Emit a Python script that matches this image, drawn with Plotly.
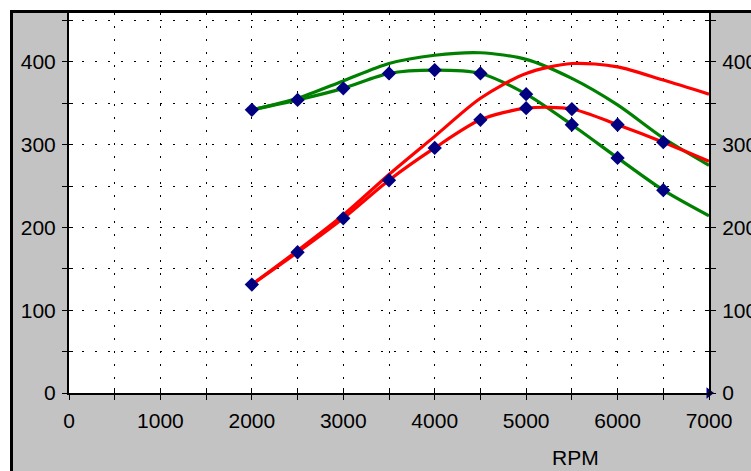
import plotly.graph_objects as go

# ---- data ----
rpm = [2000, 2500, 3000, 3500, 4000, 4500, 5000, 5500, 6000, 6500, 7000]
green_marked = [342, 354, 368, 386, 390, 386, 361, 324, 284, 245, 214]
green_smooth = [342, 356, 377, 398, 408, 411, 403, 380, 348, 308, 275]
red_marked = [131, 170, 211, 257, 296, 330, 344, 343, 324, 303, 280]
red_smooth = [131, 172, 215, 264, 310, 356, 386, 398, 394, 378, 361]
x_ticks = list(range(0, 7001, 500))
x_ticktext = [str(v) if v % 1000 == 0 else "" for v in x_ticks]
y_ticks = list(range(0, 451, 50))
y_ticktext = [str(v) if v % 100 == 0 else "" for v in y_ticks]

W, H = 751, 471
L, R, T, B = 69, 709, 13, 393
YMAX = 459

FONT = "Liberation Sans, Arial, sans-serif"
GREEN = "#008000"
RED = "#ff0000"
NAVY = "#000080"
GRAY = "#c3c3c3"


def px2x(px):
    return (px - L) / (R - L)


def py2y(py):
    return (B - py) / (B - T)


fig = go.Figure()

for ys, col in [(green_smooth, GREEN), (green_marked, GREEN), (red_smooth, RED), (red_marked, RED)]:
    fig.add_trace(go.Scatter(x=rpm, y=ys, mode="lines",
                             line=dict(color=col, width=3.2, shape="spline", smoothing=0.8),
                             showlegend=False, hoverinfo="skip"))

for ys in [green_marked, red_marked]:
    fig.add_trace(go.Scatter(x=rpm[:-1], y=ys[:-1], mode="markers",
                             marker=dict(symbol="diamond", size=11, color=NAVY,
                                         line=dict(width=0)),
                             showlegend=False, hoverinfo="skip"))

# cursor triangle at the axis end
fig.add_trace(go.Scatter(x=[rpm[-1]], y=[0], mode="markers", cliponaxis=False,
                         marker=dict(symbol="triangle-right", size=10, color=NAVY),
                         showlegend=False, hoverinfo="skip"))

# invisible traces to bind overlay axes
fig.add_trace(go.Scatter(x=[None], y=[None], xaxis="x2", yaxis="y3", showlegend=False))
fig.add_trace(go.Scatter(x=[None], y=[None], xaxis="x", yaxis="y2", showlegend=False))
fig.add_trace(go.Scatter(x=[None], y=[None], xaxis="x", yaxis="y4", showlegend=False))

tickfont = dict(family=FONT, size=21, color="#000000")

common_y = dict(range=[0, YMAX], tickmode="array", tickvals=y_ticks, fixedrange=True,
                automargin=False)

fig.update_layout(
    width=W, height=H, autosize=False,
    margin=dict(l=L, r=W - R, t=T, b=H - B, pad=0, autoexpand=False),
    paper_bgcolor=GRAY, plot_bgcolor="#ffffff",
    showlegend=False,
    xaxis=dict(range=[0, 7000], tickmode="array", tickvals=x_ticks, ticktext=x_ticktext,
               ticks="outside", ticklen=5, tickwidth=1, tickcolor="#000",
               showline=True, linecolor="#000", linewidth=2, automargin=False,
               showgrid=True, gridcolor="#000", gridwidth=1, griddash="2px,11px",
               zeroline=False, tickfont=tickfont, ticklabelstandoff=3),
    xaxis2=dict(range=[0, 7000], overlaying="x", side="bottom", anchor="y",
                tickmode="array", tickvals=x_ticks, showticklabels=False, automargin=False,
                ticks="inside", ticklen=5, tickwidth=1, tickcolor="#000",
                showgrid=False, zeroline=False, showline=False),
    yaxis=dict(**common_y, ticktext=y_ticktext,
               ticks="outside", ticklen=5, tickwidth=1, tickcolor="#000",
               showline=True, linecolor="#000", linewidth=2,
               showgrid=True, gridcolor="#000", gridwidth=1, griddash="2px,11px",
               zeroline=False, tickfont=tickfont, ticklabelstandoff=2),
    yaxis2=dict(**common_y, ticktext=y_ticktext, overlaying="y", side="right", anchor="x",
                ticks="outside", ticklen=5, tickwidth=1, tickcolor="#000",
                showline=True, linecolor="#000", linewidth=2,
                showgrid=False, zeroline=False, tickfont=tickfont, ticklabelstandoff=2),
    yaxis3=dict(**common_y, overlaying="y", side="left", anchor="x2", showticklabels=False,
                ticks="inside", ticklen=4, tickwidth=1, tickcolor="#000",
                showgrid=False, zeroline=False, showline=False),
    yaxis4=dict(**common_y, overlaying="y", side="right", anchor="x", showticklabels=False,
                ticks="inside", ticklen=4, tickwidth=1, tickcolor="#000",
                showgrid=False, zeroline=False, showline=False),
    annotations=[dict(text="RPM", xref="paper", yref="paper", x=px2x(575), y=py2y(457),
                      xanchor="center", yanchor="middle", showarrow=False,
                      font=dict(family=FONT, size=21, color="#000"))],
    shapes=[
        dict(type="rect", xref="paper", yref="paper", x0=px2x(0), x1=px2x(10),
             y0=py2y(0), y1=py2y(H), fillcolor="#ffffff", line=dict(width=0)),
        dict(type="rect", xref="paper", yref="paper", x0=px2x(0), x1=px2x(W),
             y0=py2y(0), y1=py2y(10), fillcolor="#ffffff", line=dict(width=0)),
        dict(type="rect", xref="paper", yref="paper", x0=px2x(10), x1=px2x(13),
             y0=py2y(10), y1=py2y(H), fillcolor="#000000", line=dict(width=0)),
        dict(type="rect", xref="paper", yref="paper", x0=px2x(10), x1=px2x(W),
             y0=py2y(10), y1=py2y(13), fillcolor="#000000", line=dict(width=0)),
    ],
)

fig.write_html("out.html", config={"displayModeBar": False},
               post_script="document.body.style.margin='0';document.body.style.overflow='hidden';")
